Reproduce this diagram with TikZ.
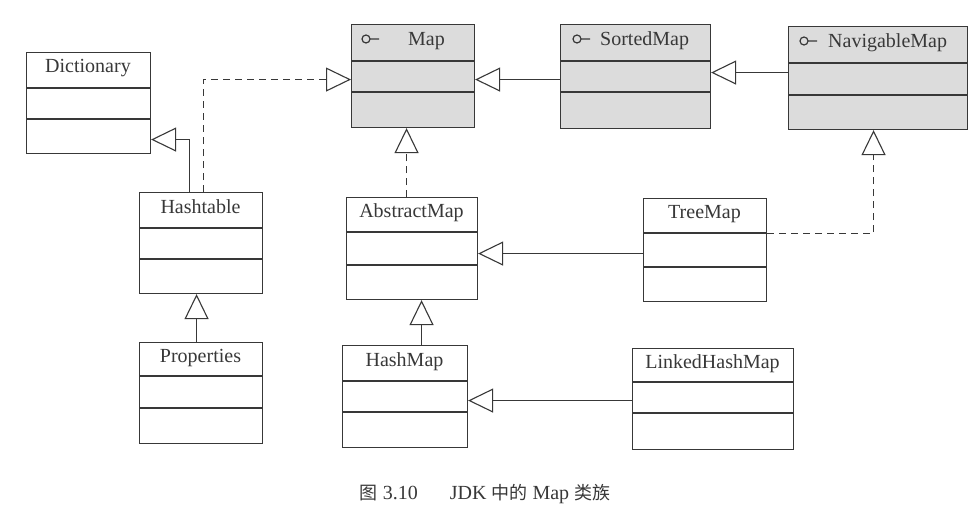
\documentclass[tikz,border=0pt]{standalone}
\usepackage{fontspec}
\setmainfont{Liberation Serif}
\newfontfamily\cjkfont{Noto Sans CJK SC}
\usetikzlibrary{arrows.meta}
\definecolor{ink}{HTML}{383838}
\definecolor{ifill}{HTML}{DCDCDC}
\newcommand\umlbox[8]{%
  \node[#8, minimum width={(#4-#2)*1pt}, minimum height={(#5-#3)*1pt}] (#1) at (#2,#3) {};
  \draw[ink, line width=1.1pt] (#2,#6) -- (#4,#6) (#2,#7) -- (#4,#7);
}
\newcommand\cj[1]{{\cjkfont\fontsize{18}{21}\selectfont #1}}
\begin{document}
\begin{tikzpicture}[x=1pt,y=-1pt,
  cls/.style={draw=ink, line width=1.1pt, rectangle, inner sep=0pt, anchor=north west, fill=white},
  ifc/.style={cls, fill=ifill},
  ttl/.style={font=\fontsize{20}{24}\selectfont, text=ink, inner sep=0pt, text height=13pt, text depth=7pt},
  inh/.style={draw=ink, line width=1.1pt, -{Triangle[open, length=25pt, width=24pt, line width=1.1pt]}},
  real/.style={inh, dash pattern=on 7pt off 5pt},
  icon/.style={draw=ink, line width=1.2pt}
]
\useasboundingbox (0,0) rectangle (974,516);
\fill[white] (0,0) rectangle (974,516);

% classes
\umlbox{dict}{26}{52}{150}{153}{88}{119}{cls}
\umlbox{ht}{139}{192}{262}{293}{228}{259}{cls}
\umlbox{prop}{139}{342}{262}{443}{376}{408}{cls}
\umlbox{map}{351}{24}{474}{127}{61}{92}{ifc}
\umlbox{sorted}{560}{24}{710}{128}{61}{92}{ifc}
\umlbox{nav}{788}{26}{967}{129}{63}{95}{ifc}
\umlbox{abs}{346}{197}{477}{299}{232}{265}{cls}
\umlbox{tree}{643}{198}{766}{301}{233}{267}{cls}
\umlbox{hash}{342}{345}{467}{447}{381}{412}{cls}
\umlbox{linked}{632}{348}{793}{449}{382}{413}{cls}

% titles
\node[ttl] (dict-t) at (88,70) {Dictionary};
\node[ttl] (ht-t) at (200.5,210) {Hashtable};
\node[ttl] (prop-t) at (200.5,359) {Properties};
\node[ttl] (abs-t) at (411.5,214.5) {AbstractMap};
\node[ttl] (tree-t) at (704.5,215.5) {TreeMap};
\node[ttl] (hash-t) at (404.5,363) {HashMap};
\node[ttl] (linked-t) at (712.5,365) {LinkedHashMap};
\node[ttl, anchor=west] (map-t) at (408,42.5) {Map};
\node[ttl, anchor=west] (sorted-t) at (600,42.5) {SortedMap};
\node[ttl, anchor=west] (nav-t) at (828,44.5) {NavigableMap};

% interface icons
\draw[icon] (366,39) circle[radius=4] (370,39) -- (379,39);
\draw[icon] (577,39) circle[radius=4] (581,39) -- (590,39);
\draw[icon] (804,41) circle[radius=4] (808,41) -- (817,41);

% connectors
\draw[inh] ([xshift=-11.5pt]ht.north) |- ([yshift=-36.5pt]dict.east);
\draw[real] ([xshift=2.5pt]ht.north) |- ([yshift=-3.5pt]map.west);
\coordinate (c3) at ([yshift=-3pt]sorted.west);
\draw[inh] (c3) -- (c3 -| map.east);
\coordinate (c4) at ([yshift=5.5pt]nav.west);
\draw[inh] (c4) -- (c4 -| sorted.east);
\coordinate (c5) at ([xshift=-5.5pt]abs.north);
\draw[real] (c5) -- (c5 |- map.south);
\coordinate (c6) at ([yshift=16.5pt]tree.east);
\draw[real] (c6) -| ([xshift=-4.5pt]nav.south);
\coordinate (c7) at ([yshift=-3.5pt]tree.west);
\draw[inh] (c7) -- (c7 -| abs.east);
\coordinate (c8) at ([xshift=16.5pt]hash.north);
\draw[inh] (c8) -- (c8 |- abs.south);
\coordinate (c9) at ([yshift=-1.5pt]linked.west);
\draw[inh] (c9) -- (c9 -| hash.east);
\coordinate (c10) at ([xshift=-4.5pt]prop.north);
\draw[inh] (c10) -- (c10 |- ht.south);

% caption
\node[font=\fontsize{20}{23}\selectfont, text=ink, inner sep=0pt] (cap) at (485,494)
  {\cj{图} 3.10\hspace{32pt}JDK \cj{中的} Map \cj{类族}};
\end{tikzpicture}
\end{document}
